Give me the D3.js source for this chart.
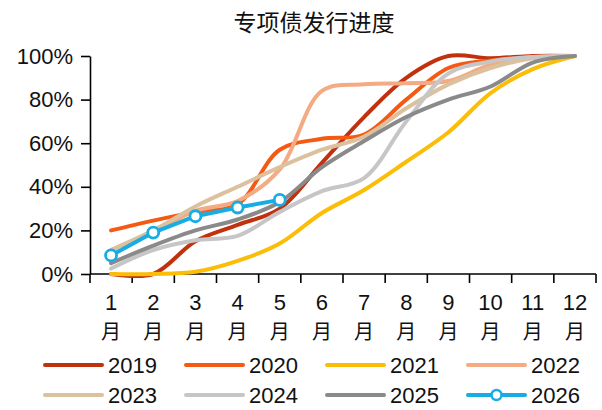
<!DOCTYPE html>
<html>
<head>
<meta charset="utf-8">
<script src="https://cdn.jsdelivr.net/npm/d3@7"></script>
<style>
  body { margin: 0; background: #fff; }
  text { font-family: "Liberation Sans", Arial, "Noto Sans CJK SC", sans-serif; fill: #111; }
</style>
</head>
<body>
<div id="chart"></div>
<script>
// data (cumulative issuance %, by month)
var months = ["1", "2", "3", "4", "5", "6", "7", "8", "9", "10", "11", "12"];
var years = ["2019", "2020", "2021", "2022", "2023", "2024", "2025", "2026"];
var v2019 = [0, 0, 15, 22.5, 30, 51, 72, 90, 100, 99, 100, 100];
var v2020 = [20, 24.5, 28.5, 32, 57, 62, 64, 80, 94.5, 98, 99.5, 100];
var v2021 = [0, 0, 1, 6, 14, 28, 38.5, 51.5, 65, 83, 94, 100];
var v2022 = [11, 19.5, 29, 33.5, 48, 84, 87, 87.5, 88.5, 96, 99.5, 100];
var v2023 = [11, 20, 31, 40, 49, 57, 63, 76, 87, 94.5, 99, 100];
var v2024 = [2.5, 11, 15.5, 17.5, 28.5, 38, 44, 70, 92, 97.5, 99.5, 100];
var v2025 = [5, 13, 20, 25, 33, 49, 61, 72, 80, 86, 97, 100];
var v2026 = [8.5, 19, 26.5, 30.5, 34];
var yTicks = [0, 20, 40, 60, 80, 100];
var colors = ["#c2310e", "#f45a14", "#fbbd05", "#f4aa82", "#dcc19e", "#c6c6c6", "#8a8a8a", "#17ade4"];
var seriesValues = [v2019, v2020, v2021, v2022, v2023, v2024, v2025, v2026];

var svg = d3.select("#chart").append("svg")
    .attr("width", 602)
    .attr("height", 410);

// title
svg.append("text")
    .attr("x", 314)
    .attr("y", 31)
    .attr("text-anchor", "middle")
    .style("font-size", "23px")
    .style("font-family", "'Noto Sans CJK SC', sans-serif")
    .text("专项债发行进度");

var x = d3.scaleBand().domain(months).range([90, 596]);
var y = d3.scaleLinear().domain([0, 100]).range([274, 56]);

// y axis
var yAxis = svg.append("g").attr("transform", "translate(90,0)")
    .call(d3.axisLeft(y).tickValues(yTicks).tickSize(9).tickSizeOuter(0)
        .tickFormat(function(d) { return d + "%"; }));
yAxis.select(".domain").attr("stroke", "#000").attr("stroke-width", 1.6);
yAxis.selectAll(".tick line").attr("stroke", "#000").attr("stroke-width", 1.6);
yAxis.selectAll(".tick text")
    .attr("x", -17)
    .style("font-size", "22px")
    .style("fill", "#111");
yAxis.attr("font-family", null);

// x axis: line, boundary ticks, two-line labels
var xg = svg.append("g");
xg.append("line")
    .attr("x1", 90).attr("x2", 596)
    .attr("y1", y(0)).attr("y2", y(0))
    .attr("stroke", "#000").attr("stroke-width", 1.6);
var bounds = months.map(function(m) { return x(m); }).concat([x.range()[1]]);
xg.selectAll(".xtick").data(bounds).enter().append("line")
    .attr("class", "xtick")
    .attr("x1", function(d) { return d; }).attr("x2", function(d) { return d; })
    .attr("y1", y(0)).attr("y2", y(0) + 9)
    .attr("stroke", "#000").attr("stroke-width", 1.6);
xg.selectAll(".xnum").data(months).enter().append("text")
    .attr("class", "xnum")
    .attr("text-anchor", "middle")
    .attr("x", function(d) { return x(d) + x.bandwidth() / 2; })
    .attr("y", 310)
    .style("font-size", "22px")
    .text(function(d) { return d; });
xg.selectAll(".xmon").data(months).enter().append("text")
    .attr("class", "xmon")
    .attr("text-anchor", "middle")
    .attr("x", function(d) { return x(d) + x.bandwidth() / 2; })
    .attr("y", 339)
    .style("font-family", "'Noto Sans CJK SC', sans-serif")
    .style("font-size", "20px")
    .text("月");

function cx(d, i) { return x(months[i]) + x.bandwidth() / 2; }

var smooth = d3.line().x(cx).y(function(d) { return y(d); }).curve(d3.curveCatmullRom.alpha(0.5));
var straight = d3.line().x(cx).y(function(d) { return y(d); });

seriesValues.forEach(function(vals, k) {
    svg.append("path")
        .attr("d", k == 7 ? straight(vals) : smooth(vals))
        .attr("fill", "none")
        .attr("stroke", colors[k])
        .attr("stroke-width", 4)
        .attr("stroke-linejoin", "round")
        .attr("stroke-linecap", "round");
});

// 2026 markers
svg.selectAll(".dot").data(v2026).enter().append("circle")
    .attr("class", "dot")
    .attr("cx", cx)
    .attr("cy", function(d) { return y(d); })
    .attr("r", 5.5)
    .attr("fill", "#fff")
    .attr("stroke", colors[7])
    .attr("stroke-width", 2.8);

// legend
var legend = svg.selectAll(".leg").data(years).enter().append("g")
    .attr("class", "leg")
    .attr("transform", function(d, i) {
        return "translate(" + (45 + (i % 4) * 141) + "," + (365 + Math.floor(i / 4) * 30) + ")";
    });
legend.append("line")
    .attr("x1", 0).attr("x2", 57)
    .attr("stroke", function(d, i) { return colors[i]; })
    .attr("stroke-width", 4)
    .attr("stroke-linecap", "round");
legend.filter(function(d) { return d == "2026"; }).append("circle")
    .attr("cx", 28.5).attr("r", 5)
    .attr("fill", "#fff")
    .attr("stroke", colors[7])
    .attr("stroke-width", 2.5);
legend.append("text")
    .attr("x", 63)
    .attr("y", 8)
    .style("font-size", "22px")
    .text(function(d) { return d; });
</script>
</body>
</html>
